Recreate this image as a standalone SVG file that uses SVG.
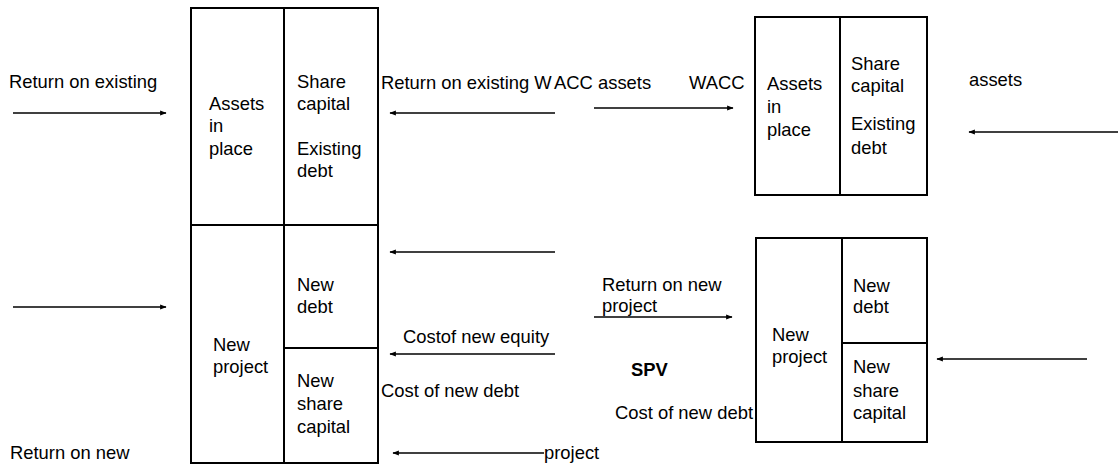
<svg xmlns="http://www.w3.org/2000/svg" width="1118" height="468" viewBox="0 0 1118 468">
  <style>
    .box { fill: none; stroke: #000; stroke-width: 2; }
    .flow { fill: none; stroke: #000; stroke-width: 1.3; marker-end: url(#head); }
    text { font-family: "Liberation Sans", Arial, sans-serif; font-size: 18.4px; fill: #000; }
    .bold { font-weight: bold; }
  </style>
  <defs>
    <marker id="head" viewBox="0 0 10 10" refX="9" refY="5" markerWidth="5" markerHeight="5" orient="auto" markerUnits="strokeWidth">
      <path d="M0,1 L10,5 L0,9 z" fill="#000"/>
    </marker>
  </defs>
  <rect width="1118" height="468" fill="#fff"/>

  <!-- Company balance sheet: existing assets plus new project -->
  <g id="company">
    <rect class="box" x="191" y="8" width="187" height="455"/>
    <line class="box" x1="284" y1="8" x2="284" y2="463"/>
    <line class="box" x1="191" y1="225" x2="378" y2="225"/>
    <line class="box" x1="284" y1="348" x2="378" y2="348"/>
    <text x="209" y="110">Assets</text>
    <text x="209" y="132">in</text>
    <text x="209" y="155">place</text>
    <text x="297" y="88">Share</text>
    <text x="297" y="110">capital</text>
    <text x="297" y="155">Existing</text>
    <text x="297" y="177">debt</text>
    <text x="213" y="351">New</text>
    <text x="213" y="373">project</text>
    <text x="297" y="291">New</text>
    <text x="297" y="313">debt</text>
    <text x="297" y="387">New</text>
    <text x="297" y="410">share</text>
    <text x="297" y="433">capital</text>
  </g>

  <!-- Existing firm after separation -->
  <g id="existing-firm">
    <rect class="box" x="755" y="17" width="172" height="178"/>
    <line class="box" x1="840" y1="17" x2="840" y2="195"/>
    <text x="767" y="90">Assets</text>
    <text x="767" y="113">in</text>
    <text x="767" y="136">place</text>
    <text x="851" y="70">Share</text>
    <text x="851" y="92">capital</text>
    <text x="851" y="130">Existing</text>
    <text x="851" y="154">debt</text>
  </g>

  <!-- Special purpose vehicle holding the new project -->
  <g id="spv">
    <rect class="box" x="756" y="238" width="171" height="204"/>
    <line class="box" x1="842" y1="238" x2="842" y2="442"/>
    <line class="box" x1="842" y1="343" x2="927" y2="343"/>
    <text x="772" y="341">New</text>
    <text x="772" y="363">project</text>
    <text x="853" y="292">New</text>
    <text x="853" y="313">debt</text>
    <text x="853" y="373">New</text>
    <text x="853" y="397">share</text>
    <text x="853" y="419">capital</text>
  </g>

  <!-- Cash-flow arrows -->
  <g id="connectors">
    <line class="flow" x1="13" y1="113" x2="166" y2="113"/>
    <line class="flow" x1="555" y1="113" x2="390" y2="113"/>
    <line class="flow" x1="594" y1="108" x2="733" y2="108"/>
    <line class="flow" x1="1118" y1="132" x2="969" y2="132"/>
    <line class="flow" x1="13" y1="307" x2="166" y2="307"/>
    <line class="flow" x1="555" y1="252" x2="390" y2="252"/>
    <line class="flow" x1="594" y1="317" x2="732" y2="317"/>
    <line class="flow" x1="555" y1="354" x2="390" y2="354"/>
    <line class="flow" x1="544" y1="453" x2="393" y2="453"/>
    <line class="flow" x1="1087" y1="359" x2="937" y2="359"/>
  </g>

  <!-- Flow labels -->
  <g id="labels">
    <text x="9" y="88">Return on existing</text>
    <text x="381" y="89">Return on existing W<tspan dx="3">ACC</tspan> assets</text>
    <text x="689" y="89">WACC</text>
    <text x="969" y="86">assets</text>
    <text x="602" y="291">Return on new</text>
    <text x="602" y="312">project</text>
    <text x="403" y="343">Costof new equity</text>
    <text class="bold" x="631" y="376">SPV</text>
    <text x="381" y="397">Cost of new debt</text>
    <text x="615" y="419">Cost of new debt</text>
    <text x="10" y="459">Return on new</text>
    <text x="544" y="459">project</text>
  </g>
</svg>
